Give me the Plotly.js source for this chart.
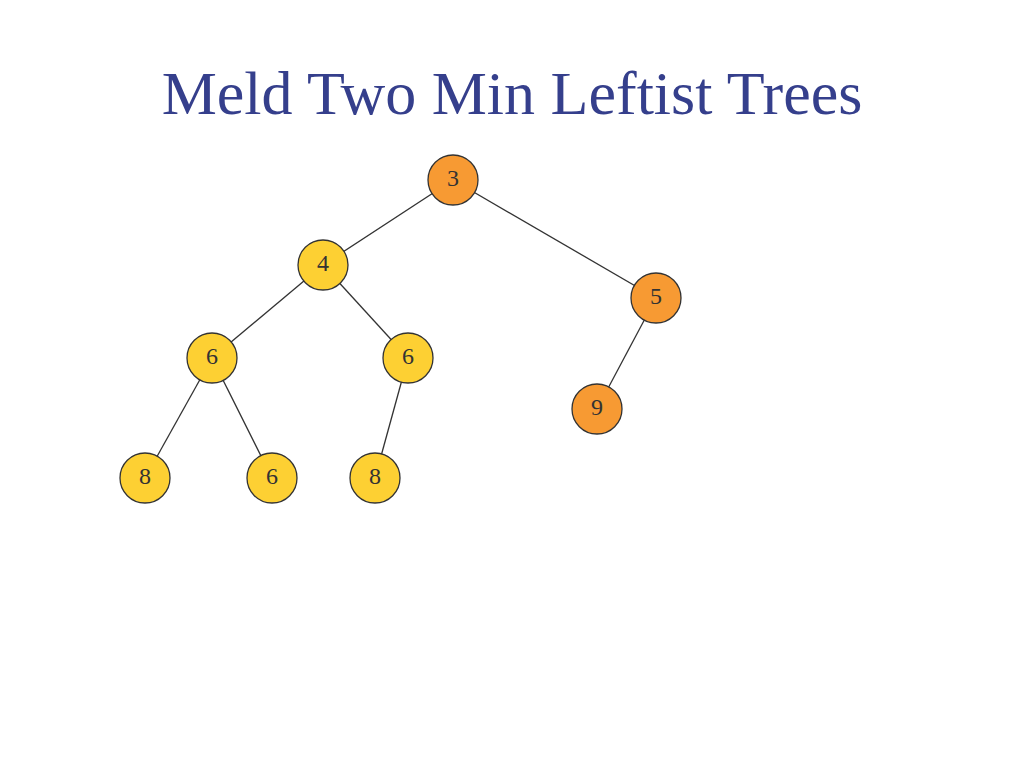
<!DOCTYPE html>
<html>
<head>
<script src="https://cdn.plot.ly/plotly-3.0.1.min.js"></script>
<style>body{margin:0;background:#fff}</style>
</head>
<body>
<div id="chart" style="width:1024px;height:768px"></div>
<script>
// tree nodes
var nodeLabels = ["3", "4", "5", "6", "6", "9", "8", "6", "8"];
var nodeX = [453, 323, 656, 212, 408, 597, 145, 272, 375];
var nodeY = [180, 265, 298, 358, 358, 409, 478, 478, 478];
var nodeTree = ["b", "a", "b", "a", "a", "b", "a", "a", "a"];
// parent -> child edges (node indexes)
var edgeFrom = [0, 0, 1, 1, 3, 3, 4, 2];
var edgeTo = [1, 2, 3, 4, 6, 7, 8, 5];

var colors = { a: "#fdd033", b: "#f79a33" };

var ex = [], ey = [];
for (var i = 0; i < edgeFrom.length; i++) {
  ex.push(nodeX[edgeFrom[i]], nodeX[edgeTo[i]], null);
  ey.push(nodeY[edgeFrom[i]], nodeY[edgeTo[i]], null);
}

var data = [
  {
    type: "scatter", mode: "lines", x: ex, y: ey,
    line: { color: "#333333", width: 1.3 }, hoverinfo: "skip"
  },
  {
    type: "scatter", mode: "markers+text", x: nodeX, y: nodeY,
    text: nodeLabels, textposition: "middle center",
    textfont: { family: "Liberation Serif, serif", size: 24, color: "#333333" },
    marker: {
      size: 50,
      color: nodeTree.map(function (t) { return colors[t]; }),
      line: { color: "#333333", width: 1.3 }
    }
  }
];

var layout = {
  width: 1024, height: 768,
  margin: { l: 0, r: 0, t: 0, b: 0 },
  showlegend: false,
  paper_bgcolor: "#ffffff", plot_bgcolor: "#ffffff",
  xaxis: { range: [0, 1024], visible: false, fixedrange: true },
  yaxis: { range: [768, 0], visible: false, fixedrange: true },
  title: {
    text: "Meld Two Min Leftist Trees",
    font: { family: "Liberation Serif, serif", size: 62, color: "#353f8c" },
    x: 0.5, xanchor: "center", y: 0.88, yanchor: "middle"
  }
};

Plotly.newPlot("chart", data, layout, { displayModeBar: false });
</script>
</body>
</html>
